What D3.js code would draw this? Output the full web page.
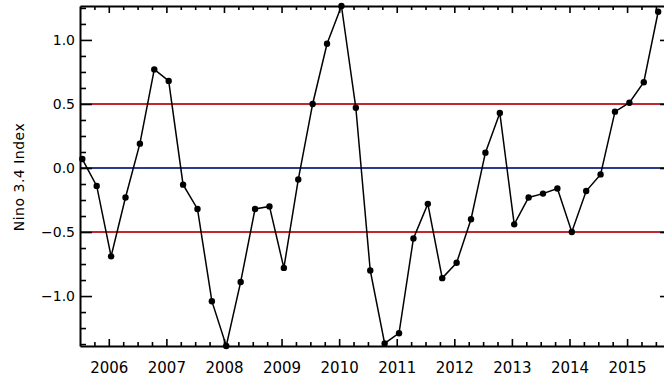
<!DOCTYPE html>
<html>
<head>
<meta charset="utf-8">
<script src="https://cdn.jsdelivr.net/npm/d3@7"></script>
<style>
  body { margin: 0; background: #fff; }
  svg { display: block; }
  svg text { font-family: "DejaVu Sans", sans-serif; fill: #000; }
  .axis path, .axis line { stroke: #000; }
</style>
</head>
<body>
<div id="root"></div>
<script>
// seasonal Nino 3.4 values, decimal year at mid-season
var dates = [2005.54, 2005.79, 2006.04, 2006.29, 2006.54, 2006.79, 2007.04, 2007.29, 2007.54, 2007.79,
             2008.04, 2008.29, 2008.54, 2008.79, 2009.04, 2009.29, 2009.54, 2009.79, 2010.04, 2010.29,
             2010.54, 2010.79, 2011.04, 2011.29, 2011.54, 2011.79, 2012.04, 2012.29, 2012.54, 2012.79,
             2013.04, 2013.29, 2013.54, 2013.79, 2014.04, 2014.29, 2014.54, 2014.79, 2015.04, 2015.29,
             2015.54];
var nino = [0.07, -0.14, -0.69, -0.23, 0.19, 0.77, 0.68, -0.13, -0.32, -1.04,
            -1.39, -0.89, -0.32, -0.30, -0.78, -0.09, 0.50, 0.97, 1.265, 0.47,
            -0.80, -1.37, -1.29, -0.55, -0.28, -0.86, -0.74, -0.40, 0.12, 0.43,
            -0.44, -0.23, -0.20, -0.16, -0.50, -0.18, -0.05, 0.44, 0.51, 0.67,
            1.22];
var years = [2006, 2007, 2008, 2009, 2010, 2011, 2012, 2013, 2014, 2015];
var yTicks = [-1.0, -0.5, 0.0, 0.5, 1.0];
var thresholds = [0.5, -0.5];

function draw(){
    var width = 664, height = 382;
    var m = { left: 80, right: 672, top: 6, bottom: 346 };

    var svg = d3.select("#root").append("svg")
        .attr("width", width)
        .attr("height", height);

    var x = d3.scaleLinear().domain([2005.5, 2015.78]).range([m.left, m.right]);
    var y = d3.scaleLinear().domain(d3.extent(nino)).range([m.bottom, m.top]);

    var xMinor = d3.range(2005.75, 2015.78, 0.25).filter(function(d){ return Math.abs(d - Math.round(d)) > 0.01; });
    var yMinor = d3.range(-1.375, 1.27, 0.125).filter(function(d){ return Math.abs(d * 2 - Math.round(d * 2)) > 0.01; });

    function fmt(d){ return d3.format(".1f")(d).replace("-", "\u2212"); }
    function noDomain(g){ g.select(".domain").remove(); }

    // reference lines
    svg.selectAll(".thr")
        .data(thresholds)
        .enter().append("line")
        .attr("x1", m.left).attr("x2", m.right)
        .attr("y1", function(d){ return y(d); })
        .attr("y2", function(d){ return y(d); })
        .attr("stroke", "#c4262c")
        .attr("stroke-width", 2);

    svg.append("line")
        .attr("x1", m.left).attr("x2", m.right)
        .attr("y1", y(0)).attr("y2", y(0))
        .attr("stroke", "#2a3a8e")
        .attr("stroke-width", 2);

    // minor ticks
    svg.append("g").attr("class", "axis")
        .attr("transform", "translate(" + m.left + ",0)")
        .call(d3.axisLeft(y).tickValues(yMinor).tickSizeInner(-6).tickSizeOuter(0).tickFormat(""))
        .call(noDomain);
    svg.append("g").attr("class", "axis")
        .attr("transform", "translate(" + m.right + ",0)")
        .call(d3.axisRight(y).tickValues(yMinor).tickSizeInner(-6).tickSizeOuter(0).tickFormat(""))
        .call(noDomain);
    svg.append("g").attr("class", "axis")
        .attr("transform", "translate(0," + m.bottom + ")")
        .call(d3.axisBottom(x).tickValues(xMinor).tickSizeInner(-4).tickSizeOuter(0).tickFormat(""))
        .call(noDomain);
    svg.append("g").attr("class", "axis")
        .attr("transform", "translate(0," + m.top + ")")
        .call(d3.axisTop(x).tickValues(xMinor).tickSizeInner(-4).tickSizeOuter(0).tickFormat(""))
        .call(noDomain);

    // major axes
    var yAxis = svg.append("g").attr("class", "axis")
        .attr("transform", "translate(" + m.left + ",0)")
        .call(d3.axisLeft(y).tickValues(yTicks).tickSizeInner(-12).tickSizeOuter(0).tickPadding(5).tickFormat(fmt));
    yAxis.selectAll("text").style("font-size", "14px");

    svg.append("g").attr("class", "axis")
        .attr("transform", "translate(" + m.right + ",0)")
        .call(d3.axisRight(y).tickValues(yTicks).tickSizeInner(-12).tickSizeOuter(0).tickFormat(""));

    var xAxis = svg.append("g").attr("class", "axis")
        .attr("transform", "translate(0," + m.bottom + ")")
        .call(d3.axisBottom(x).tickValues(years).tickSizeInner(-7).tickSizeOuter(0).tickPadding(16).tickFormat(d3.format("d")));
    xAxis.selectAll("text").style("font-size", "15px");

    svg.append("g").attr("class", "axis")
        .attr("transform", "translate(0," + m.top + ")")
        .call(d3.axisTop(x).tickValues(years).tickSizeInner(-7).tickSizeOuter(0).tickFormat(""));

    svg.selectAll(".axis line").attr("stroke-width", 1.6);
    svg.selectAll(".axis .domain").attr("stroke-width", 2);

    // y title
    svg.append("text")
        .attr("transform", "translate(24,177) rotate(-90)")
        .attr("text-anchor", "middle")
        .style("font-size", "14px")
        .style("letter-spacing", "0.5px")
        .text("Nino 3.4 Index");

    // series
    var line = d3.line()
        .x(function(d, i){ return x(dates[i]); })
        .y(function(d){ return y(d); });

    svg.append("path")
        .datum(nino)
        .attr("d", line)
        .attr("fill", "none")
        .attr("stroke", "#000")
        .attr("stroke-width", 1.5);

    svg.selectAll(".pt")
        .data(nino)
        .enter().append("circle")
        .attr("class", "pt")
        .attr("cx", function(d, i){ return x(dates[i]); })
        .attr("cy", function(d){ return y(d); })
        .attr("r", 3.2)
        .attr("fill", "#000");
}

draw();
</script>
</body>
</html>
